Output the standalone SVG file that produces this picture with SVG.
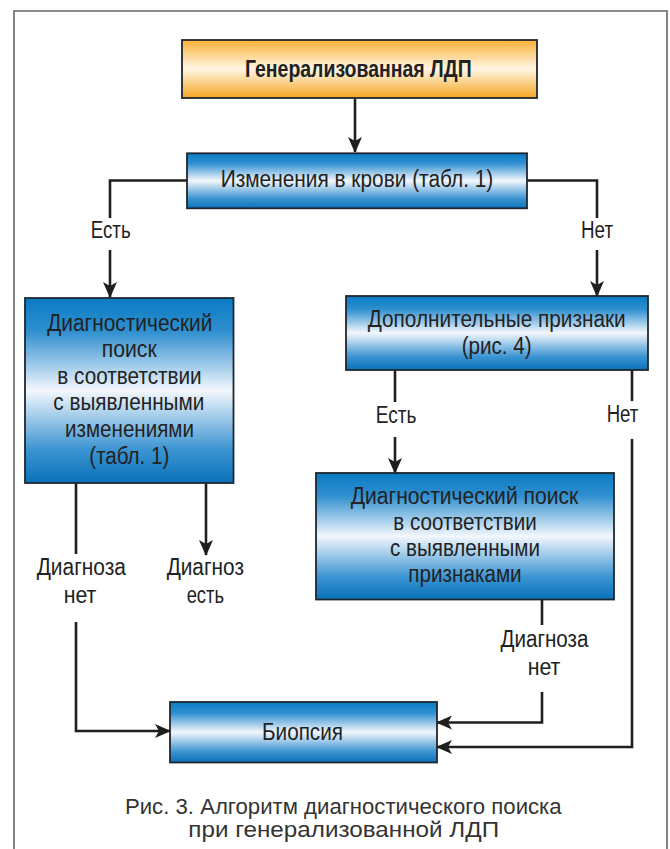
<svg xmlns="http://www.w3.org/2000/svg" width="670" height="849" viewBox="0 0 670 849">
  <defs>
    <linearGradient id="gBlue" x1="0" y1="0" x2="0" y2="1">
      <stop offset="0" stop-color="#0a7bc3"/>
      <stop offset="0.18" stop-color="#2f8fd0"/>
      <stop offset="0.5" stop-color="#f3f7fc"/>
      <stop offset="0.82" stop-color="#3c94d2"/>
      <stop offset="1" stop-color="#0a72b9"/>
    </linearGradient>
    <linearGradient id="gOrange" x1="0" y1="0" x2="0" y2="1">
      <stop offset="0" stop-color="#fbb036"/>
      <stop offset="0.5" stop-color="#fff6e4"/>
      <stop offset="1" stop-color="#f6a622"/>
    </linearGradient>
    <marker id="arrow" markerUnits="userSpaceOnUse" markerWidth="16" markerHeight="14" refX="15" refY="7" orient="auto">
      <path d="M0,0 L16,7 L0,14 L4,7 Z" fill="#1e1e1e"/>
    </marker>
    <style>
      .box { stroke: #1f2630; stroke-width: 1.8; }
      .blue { fill: url(#gBlue); }
      .orange { fill: url(#gOrange); }
      .t { font-family: "Liberation Sans Narrow", "Liberation Sans", Arial, sans-serif; font-size: 23.5px; fill: #222; text-anchor: middle; }
      .b { font-weight: bold; }
      .cap { font-family: "Liberation Sans", Arial, sans-serif; font-size: 21.5px; fill: #333; text-anchor: middle; }
      .ln { fill: none; stroke: #1e1e1e; stroke-width: 2.6; }
      .frame { fill: none; stroke: #666; stroke-width: 1.6; }
    </style>
  </defs>

  <!-- outer frame, open at the bottom -->
  <path class="frame" d="M14,849 V11 H667 V849"/>

  <!-- connectors -->
  <g id="connectors">
    <path class="ln" d="M355,99 V152" marker-end="url(#arrow)"/>
    <path class="ln" d="M187,180.5 H110 V218"/>
    <path class="ln" d="M110,250 V297" marker-end="url(#arrow)"/>
    <path class="ln" d="M527,180.5 H597 V218"/>
    <path class="ln" d="M597,250 V296" marker-end="url(#arrow)"/>
    <path class="ln" d="M395,370 V402"/>
    <path class="ln" d="M395,437 V473" marker-end="url(#arrow)"/>
    <path class="ln" d="M632,370 V401"/>
    <path class="ln" d="M632,439 V747 H437" marker-end="url(#arrow)"/>
    <path class="ln" d="M76,483 V554"/>
    <path class="ln" d="M76,622 V731 H170" marker-end="url(#arrow)"/>
    <path class="ln" d="M206,483 V555" marker-end="url(#arrow)"/>
    <path class="ln" d="M542,599 V625"/>
    <path class="ln" d="M542,692 V722.5 H437" marker-end="url(#arrow)"/>
  </g>

  <!-- connector labels -->
  <g id="labels">
    <text class="t" x="110.7" y="238.3" textLength="40" lengthAdjust="spacingAndGlyphs">Есть</text>
    <text class="t" x="597" y="238.3" textLength="32" lengthAdjust="spacingAndGlyphs">Нет</text>
    <text class="t" x="396" y="422.7" textLength="40.7" lengthAdjust="spacingAndGlyphs">Есть</text>
    <text class="t" x="622.5" y="422.3" textLength="31.7" lengthAdjust="spacingAndGlyphs">Нет</text>
    <text class="t" x="81.3" y="575" textLength="89.3" lengthAdjust="spacingAndGlyphs">Диагноза</text>
    <text class="t" x="80" y="603.3" textLength="32.7" lengthAdjust="spacingAndGlyphs">нет</text>
    <text class="t" x="205.3" y="575" textLength="77.3" lengthAdjust="spacingAndGlyphs">Диагноз</text>
    <text class="t" x="205.3" y="603.3" textLength="37.3" lengthAdjust="spacingAndGlyphs">есть</text>
    <text class="t" x="544.5" y="646.7" textLength="88" lengthAdjust="spacingAndGlyphs">Диагноза</text>
    <text class="t" x="544" y="675" textLength="32.7" lengthAdjust="spacingAndGlyphs">нет</text>
  </g>

  <g id="n-start">
    <rect class="box orange" x="182" y="40" width="355" height="58"/>
    <text class="t b" x="358.3" y="77" textLength="226.7" lengthAdjust="spacingAndGlyphs">Генерализованная ЛДП</text>
  </g>

  <g id="n-blood">
    <rect class="box blue" x="187" y="153.3" width="340" height="55"/>
    <text class="t" x="357" y="186.8" textLength="272.6" lengthAdjust="spacingAndGlyphs">Изменения в крови (табл. 1)</text>
  </g>

  <g id="n-search-changes">
    <rect class="box blue" x="25" y="298" width="208.5" height="185"/>
    <text class="t" x="129.8" y="330.5" textLength="165.3" lengthAdjust="spacingAndGlyphs">Диагностический</text>
    <text class="t" x="129.2" y="357" textLength="55" lengthAdjust="spacingAndGlyphs">поиск</text>
    <text class="t" x="129.5" y="383.6" textLength="144.4" lengthAdjust="spacingAndGlyphs">в соответствии</text>
    <text class="t" x="128.8" y="410.4" textLength="151" lengthAdjust="spacingAndGlyphs">с выявленными</text>
    <text class="t" x="129.5" y="437.2" textLength="129" lengthAdjust="spacingAndGlyphs">изменениями</text>
    <text class="t" x="129.3" y="464" textLength="80" lengthAdjust="spacingAndGlyphs">(табл. 1)</text>
  </g>

  <g id="n-extra-signs">
    <rect class="box blue" x="346" y="296" width="302" height="74"/>
    <text class="t" x="496.7" y="327" textLength="258" lengthAdjust="spacingAndGlyphs">Дополнительные признаки</text>
    <text class="t" x="496.7" y="354.3" textLength="70" lengthAdjust="spacingAndGlyphs">(рис. 4)</text>
  </g>

  <g id="n-search-signs">
    <rect class="box blue" x="316" y="473" width="298" height="126.5"/>
    <text class="t" x="464.5" y="503.6" textLength="227.6" lengthAdjust="spacingAndGlyphs">Диагностический поиск</text>
    <text class="t" x="465" y="530" textLength="143.4" lengthAdjust="spacingAndGlyphs">в соответствии</text>
    <text class="t" x="465" y="556.4" textLength="150" lengthAdjust="spacingAndGlyphs">с выявленными</text>
    <text class="t" x="465" y="582.3" textLength="113.3" lengthAdjust="spacingAndGlyphs">признаками</text>
  </g>

  <g id="n-biopsy">
    <rect class="box blue" x="170" y="702" width="267" height="60.5"/>
    <text class="t" x="302.5" y="739.6" textLength="81" lengthAdjust="spacingAndGlyphs">Биопсия</text>
  </g>

  <!-- caption -->
  <g id="caption">
    <text class="cap" x="343.3" y="814.3" textLength="436.7" lengthAdjust="spacingAndGlyphs">Рис. 3. Алгоритм диагностического поиска</text>
    <text class="cap" x="343.7" y="837" textLength="310.7" lengthAdjust="spacingAndGlyphs">при генерализованной ЛДП</text>
  </g>
</svg>
